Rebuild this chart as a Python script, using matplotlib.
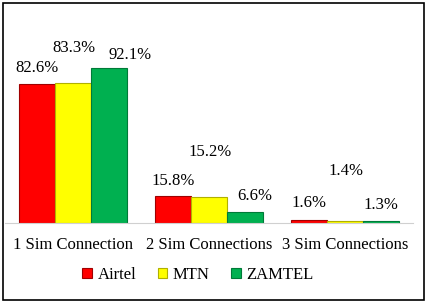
import matplotlib.pyplot as plt
import numpy as np
from matplotlib.patches import Rectangle

categories = ['1 Sim Connection', '2 Sim Connections', '3 Sim Connections']
series = ['Airtel', 'MTN', 'ZAMTEL']
airtel = [82.6, 15.8, 1.6]
mtn = [83.3, 15.2, 1.4]
zamtel = [92.1, 6.6, 1.3]

colors = ['#FF0000', '#FFFF00', '#00B050']
edges = ['#A00000', '#B0B000', '#007A38']
# label centre offsets from bar top, in points
label_dy = [[11.5, 10.8, 12.2], [25, 32.4, 36], [9.4, 11.5, 11.5]]
label_dx = [[0, 0, 0], [1, 1, 1], [15, 7, 0]]

plt.rcParams['font.family'] = ['Liberation Serif', 'DejaVu Serif']
FS = 12

fig = plt.figure(figsize=(4.27, 3.02), dpi=100)
W, H = 427, 302
ax = fig.add_axes([5 / W, (H - 223) / H, 408 / W, 211 / H])

x = np.arange(len(categories))
bw = 0.265
for i, (name, vals) in enumerate(zip(series, [airtel, mtn, zamtel])):
    xs = x + (i - 1) * bw
    ax.bar(xs, vals, width=bw, color=colors[i], edgecolor=edges[i],
           linewidth=0.8, label=name)
    for j, v in enumerate(vals):
        ax.annotate(f'{v}%', (xs[j], v),
                    xytext=(label_dx[i][j], label_dy[i][j]),
                    textcoords='offset points', ha='center', va='center',
                    fontsize=FS)

ax.set_xlim(-0.5, 2.5)
ax.set_ylim(0, 211 / 1.68)
for s in ['top', 'right', 'left']:
    ax.spines[s].set_visible(False)
ax.spines['bottom'].set_color('#D0D0D0')
ax.set_yticks([])
ax.set_xticks(x)
ax.set_xticklabels(categories, fontsize=FS)
ax.tick_params(axis='x', length=0, pad=10)

leg = fig.legend(loc='center', bbox_to_anchor=(198 / W, (H - 275) / H),
                 ncol=3, frameon=False, fontsize=FS, handlelength=0.55,
                 handleheight=0.55, handletextpad=0.35, columnspacing=1.3)

fig.patches.append(Rectangle((3 / W, 2 / H), 421 / W, 297 / H,
                             transform=fig.transFigure, fill=False,
                             edgecolor='black', linewidth=1.2))

fig.savefig('out.png', dpi=100)
